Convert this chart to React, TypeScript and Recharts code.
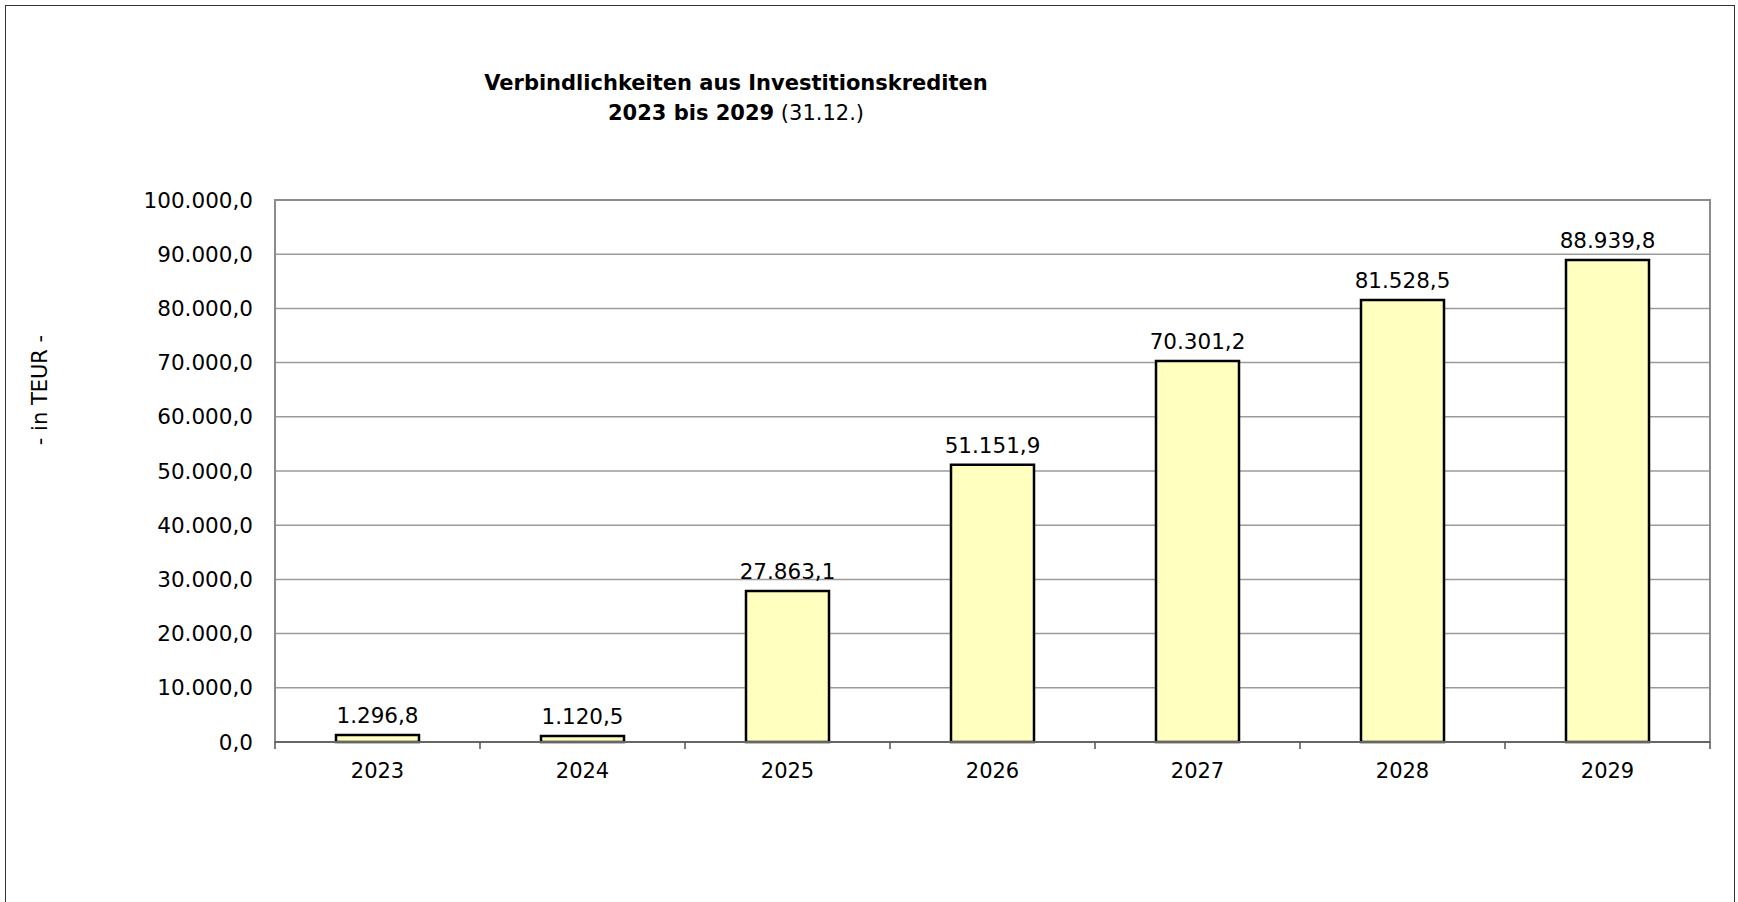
import { Bar, BarChart, CartesianGrid, LabelList, ReferenceArea, XAxis, YAxis } from "recharts"

const FONT = "Verdana, 'DejaVu Sans', sans-serif"

// Verbindlichkeiten aus Investitionskrediten, in TEUR (31.12.)
const years = ["2023", "2024", "2025", "2026", "2027", "2028", "2029"]
const debt = [1296.8, 1120.5, 27863.1, 51151.9, 70301.2, 81528.5, 88939.8]
const yTicks = [0, 10000, 20000, 30000, 40000, 50000, 60000, 70000, 80000, 90000, 100000]

const data = years.map((year, i) => ({ year, value: debt[i] }))

// German number format: 12.345,6
const fmt = (v: any) => {
  const n = Number(v)
  const [int, dec] = n.toFixed(1).split(".")
  return int.replace(/\B(?=(\d{3})+(?!\d))/g, ".") + "," + dec
}

const TICK_MARGIN = 21

// category label plus tick marks on the category boundaries
const XTick = (props: any) => {
  const { x, y, payload, index, visibleTicksCount, width } = props
  const count = visibleTicksCount || years.length
  const band = width / count
  const axisY = y - TICK_MARGIN
  const left = x - band / 2
  return (
    <g>
      <line x1={left} x2={left} y1={axisY} y2={axisY + 7} stroke="#555" strokeWidth={1.5} />
      {index === count - 1 && (
        <line x1={left + band} x2={left + band} y1={axisY} y2={axisY + 7} stroke="#555" strokeWidth={1.5} />
      )}
      <text x={x} y={y} dy="0.71em" textAnchor="middle" fill="#000" fontSize={21} fontFamily={FONT}>
        {payload.value}
      </text>
    </g>
  )
}

export default function App() {
  return (
    <div style={{ position: "absolute", left: 0, top: 0, width: 1738, height: 902, background: "#fff", overflow: "hidden", fontFamily: FONT }}>
      <div style={{ position: "absolute", left: 5, top: 5, width: 1728, height: 920, border: "1px solid #333" }} />

      <div style={{ position: "absolute", left: 336, top: 68, width: 800, textAlign: "center", fontSize: 21, lineHeight: "30px", color: "#000" }}>
        <div style={{ fontWeight: "bold" }}>Verbindlichkeiten aus Investitionskrediten</div>
        <div>
          <b>2023 bis 2029</b> (31.12.)
        </div>
      </div>

      <div
        style={{
          position: "absolute",
          left: 40,
          top: 390,
          transform: "translate(-50%, -50%) rotate(-90deg)",
          whiteSpace: "nowrap",
          fontSize: 21,
          color: "#000",
        }}
      >
        - in TEUR -
      </div>

      <div style={{ position: "absolute", left: 0, top: 0 }}>
        <BarChart width={1738} height={902} data={data} margin={{ top: 200, right: 28, bottom: 100, left: 0 }}>
          <CartesianGrid vertical={false} stroke="#9b9b9b" strokeWidth={1.5} />
          <YAxis
            width={275}
            domain={[0, 100000]}
            ticks={yTicks}
            interval={0}
            tickFormatter={fmt}
            axisLine={false}
            tickLine={false}
            tickSize={0}
            tickMargin={22}
            tick={{ fill: "#000", fontSize: 21.5, fontFamily: FONT }}
          />
          <XAxis
            dataKey="year"
            height={60}
            interval={0}
            tickSize={0}
            tickMargin={TICK_MARGIN}
            tickLine={false}
            axisLine={{ stroke: "#666", strokeWidth: 2 }}
            tick={<XTick />}
          />
          <ReferenceArea y1={0} y2={100000} fill="none" stroke="#8c8c8c" strokeWidth={2} ifOverflow="visible" />
          <Bar dataKey="value" fill="#FFFFC0" stroke="#000" strokeWidth={2.5} barSize={83} isAnimationActive={false}>
            <LabelList dataKey="value" position="top" offset={12} formatter={fmt} fill="#000" fontSize={21.5} fontFamily={FONT} />
          </Bar>
        </BarChart>
      </div>
    </div>
  )
}
